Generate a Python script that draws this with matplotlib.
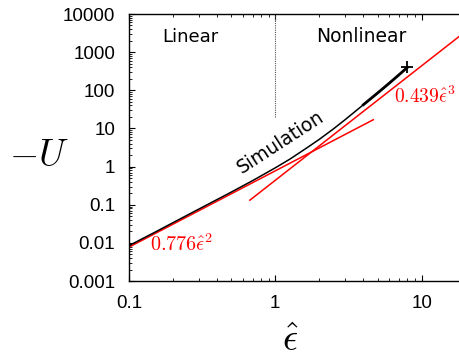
import numpy as np
import matplotlib
matplotlib.use("Agg")
import matplotlib.pyplot as plt

plt.rcParams["mathtext.fontset"] = "cm"

# simulation curve
sim_x = [0.1, 0.15, 0.2, 0.3, 0.5, 0.7, 1.0, 1.25, 1.6, 2.0, 2.5, 3.0, 4.0, 5.0, 6.0, 7.0, 8.0]
sim_y = [0.0085, 0.019, 0.034, 0.077, 0.215, 0.43, 0.93, 1.55, 2.9, 5.2, 9.8, 17, 42, 85, 153, 255, 400]

# power-law fits
fit2_coef = 0.776
fit2_x = [0.1, 4.67]
fit3_coef = 0.439
fit3_x = [0.67, 18.0]

x_ticks = [0.1, 1, 10]
x_ticklabels = ["0.1", "1", "10"]
y_ticks = [0.001, 0.01, 0.1, 1, 10, 100, 1000, 10000]
y_ticklabels = ["0.001", "0.01", "0.1", "1", "10", "100", "1000", "10000"]

fig = plt.figure(figsize=(4.59, 3.59), dpi=100)
ax = fig.add_axes([0.281, 0.217, 0.719, 0.744])

sx = np.array(sim_x)
sy = np.array(sim_y)
ax.plot(sx, sy, color="black", lw=1.1, zorder=3)
thick = sx >= 4.0
ax.plot(sx[thick], sy[thick], color="black", lw=2.0, zorder=3)
ax.plot(sx[-1], sy[-1], marker="+", color="black", ms=8, mew=1.3, zorder=4)

f2x = np.array(fit2_x)
f3x = np.array(fit3_x)
ax.plot(f2x, fit2_coef * f2x**2, color="red", lw=1.1, zorder=2)
ax.plot(f3x, fit3_coef * f3x**3, color="red", lw=1.1, zorder=2)

ax.plot([1, 1], [20, 10000], color="#555555", lw=0.8, ls=(0, (1, 1)))

ax.set_xscale("log")
ax.set_yscale("log")
ax.set_xlim(0.1, 18)
ax.set_ylim(0.001, 10000)

ax.set_xticks(x_ticks)
ax.set_xticklabels(x_ticklabels)
ax.set_yticks(y_ticks)
ax.set_yticklabels(y_ticklabels)
ax.tick_params(which="both", direction="in", top=True, right=False,
               labelsize=13.5, labelfontfamily="Liberation Sans")
ax.tick_params(which="major", length=4, width=0.8, pad=10)
ax.tick_params(which="minor", length=2, width=0.6)
ax.spines["right"].set_visible(False)
for s in ["left", "top", "bottom"]:
    ax.spines[s].set_linewidth(1.0)

ax.text(0.263, 2500, "Linear", ha="center", va="center", fontsize=13)
ax.text(3.85, 2500, "Nonlinear", ha="center", va="center", fontsize=13.5)
ax.text(1.08, 4.45, "Simulation", ha="center", va="center", fontsize=13.5,
        rotation=33, rotation_mode="anchor")
ax.text(0.14, 0.0095, r"$0.776\hat{\epsilon}^2$", color="red", fontsize=14.5,
        ha="left", va="center")
ax.text(6.5, 68, r"$0.439\hat{\epsilon}^3$", color="red", fontsize=14,
        ha="left", va="center")

fig.text(0.085, 0.565, r"$-U$", fontsize=27, ha="center", va="center")
fig.text(0.632, 0.05, r"$\hat{\epsilon}$", fontsize=27, ha="center", va="center")

fig.savefig("out.png", dpi=100)
